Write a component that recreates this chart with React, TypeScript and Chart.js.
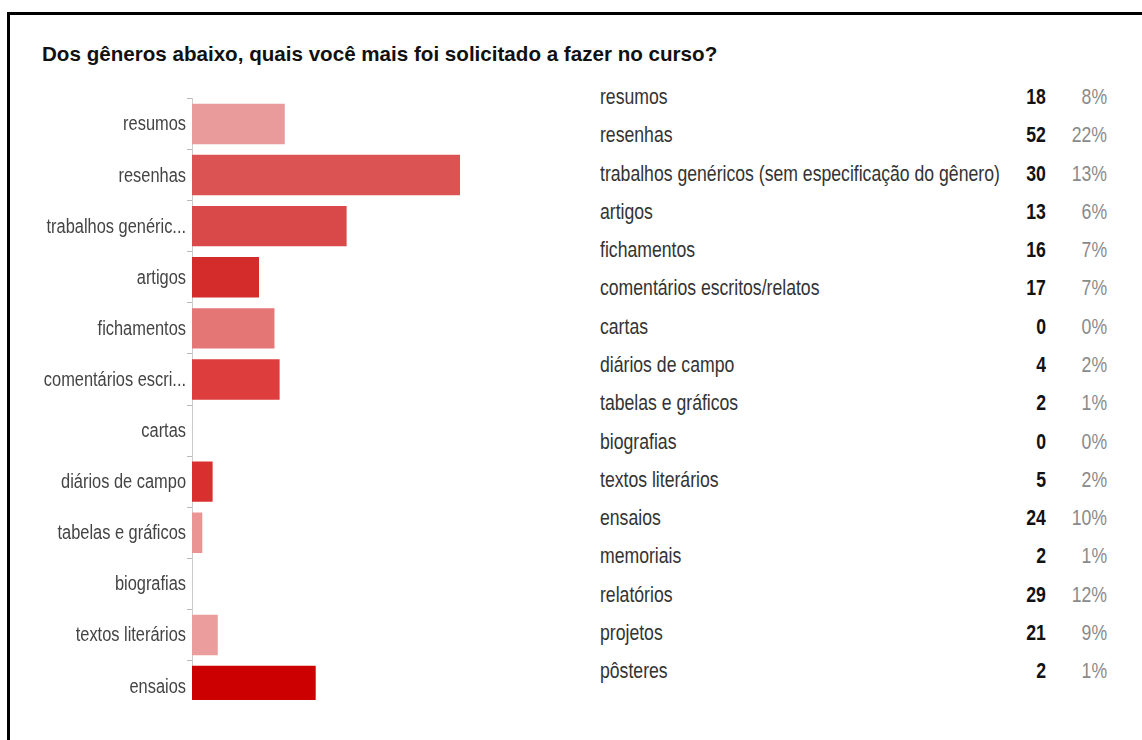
import React, { useEffect, useRef } from "react";
import { Chart, registerables } from "chart.js";

Chart.register(...registerables);

const title = "Dos gêneros abaixo, quais você mais foi solicitado a fazer no curso?";

const categories = [
  "resumos",
  "resenhas",
  "trabalhos genéricos (sem especificação do gênero)",
  "artigos",
  "fichamentos",
  "comentários escritos/relatos",
  "cartas",
  "diários de campo",
  "tabelas e gráficos",
  "biografias",
  "textos literários",
  "ensaios",
  "memoriais",
  "relatórios",
  "projetos",
  "pôsteres",
];

const counts = [18, 52, 30, 13, 16, 17, 0, 4, 2, 0, 5, 24, 2, 29, 21, 2];

const percents = ["8%", "22%", "13%", "6%", "7%", "7%", "0%", "2%", "1%", "0%", "2%", "10%", "1%", "12%", "9%", "1%"];

const barColors = [
  "#E99B9B",
  "#DC5353",
  "#DA4949",
  "#D42B2B",
  "#E47676",
  "#DD3D3D",
  "#E06666",
  "#D92F2F",
  "#EB9494",
  "#E07070",
  "#EB9C9C",
  "#CC0000",
  "#E58A8A",
  "#D63A3A",
  "#DF5C5C",
  "#EA9999",
];

const FONT = "'Liberation Sans', Arial, sans-serif";
const SQUEEZE = 0.82;

const shortLabel = (s: string) => (s.length > 20 ? s.slice(0, 17) + "..." : s);

const condensedLabels = {
  id: "condensedLabels",
  afterDraw(chart: any) {
    const scale = chart.scales.y;
    const ctx = chart.ctx;
    ctx.save();
    ctx.fillStyle = "#444444";
    ctx.font = `20px ${FONT}`;
    ctx.textAlign = "right";
    ctx.textBaseline = "middle";
    const xRight = scale.right - 5 - 1;
    scale.ticks.forEach((t: any, i: number) => {
      const y = scale.getPixelForTick(i);
      ctx.save();
      ctx.translate(xRight, y + 1);
      ctx.scale(SQUEEZE, 1);
      ctx.fillText(shortLabel(chart.data.labels[t.value]), 0, 0);
      ctx.restore();
    });
    ctx.restore();
  },
};

function BarChart() {
  const ref = useRef<HTMLCanvasElement | null>(null);
  useEffect(() => {
    if (!ref.current) return;
    const chart = new Chart(ref.current, {
      type: "bar",
      data: {
        labels: categories,
        datasets: [
          {
            data: counts,
            backgroundColor: barColors,
            borderWidth: 0,
            categoryPercentage: 0.79,
            barPercentage: 1,
          },
        ],
      },
      options: {
        indexAxis: "y",
        animation: false,
        responsive: false,
        maintainAspectRatio: false,
        layout: { padding: { top: 98.4, bottom: 19, left: 0, right: 7.2 } },
        plugins: {
          legend: { display: false },
          tooltip: { enabled: false },
          title: { display: false },
        },
        scales: {
          x: {
            display: false,
            min: 0,
            max: 70,
          },
          y: {
            afterFit: (scale: any) => {
              scale.width = 192;
            },
            border: { display: true, color: "#cccccc", width: 1 },
            grid: {
              display: true,
              drawOnChartArea: false,
              drawTicks: true,
              tickLength: 5,
              color: "#bbbbbb",
            },
            ticks: {
              display: false,
              autoSkip: false,
            },
          },
        },
      },
      plugins: [condensedLabels],
    });
    return () => chart.destroy();
  }, []);
  return (
    <div style={{ position: "absolute", left: 0, top: 0, width: 560, height: 700, overflow: "hidden" }}>
      <canvas ref={ref} width={560} height={935} style={{ display: "block", width: 560, height: 935 }} />
    </div>
  );
}

export default function App() {
  const fs = 21.5;
  const textStyle = (extra: any) => ({
    position: "absolute" as const,
    whiteSpace: "nowrap" as const,
    fontFamily: FONT,
    fontSize: fs,
    lineHeight: `${fs}px`,
    ...extra,
  });
  return (
    <div
      style={{
        position: "fixed",
        left: 0,
        top: 0,
        width: 1142,
        height: 740,
        overflow: "hidden",
        background: "#ffffff",
      }}
    >
      <div
        style={{
          position: "absolute",
          left: 7,
          top: 12,
          width: 1300,
          height: 900,
          borderTop: "3px solid #000",
          borderLeft: "3px solid #000",
        }}
      />
      <div
        style={{
          position: "absolute",
          left: 42,
          top: 44,
          whiteSpace: "nowrap",
          fontFamily: FONT,
          fontWeight: "bold",
          fontSize: 20.6,
          lineHeight: "20px",
          color: "#111",
        }}
      >
        {title}
      </div>
      <BarChart />
      {categories.map((c, i) => {
        const baseline = 105.3 + i * 38.27;
        const top = baseline - 0.847 * fs;
        return (
          <React.Fragment key={c}>
            <div
              style={textStyle({
                left: 600,
                top,
                color: "#333",
                transform: `scaleX(${SQUEEZE})`,
                transformOrigin: "left center",
              })}
            >
              {c}
            </div>
            <div
              style={textStyle({
                right: 1142 - 1046,
                top,
                fontWeight: "bold",
                color: "#111",
                textAlign: "right",
                transform: `scaleX(${SQUEEZE})`,
                transformOrigin: "right center",
              })}
            >
              {counts[i]}
            </div>
            <div
              style={textStyle({
                right: 1142 - 1107,
                top,
                color: "#8a8a8a",
                textAlign: "right",
                transform: `scaleX(${SQUEEZE})`,
                transformOrigin: "right center",
              })}
            >
              {percents[i]}
            </div>
          </React.Fragment>
        );
      })}
    </div>
  );
}
